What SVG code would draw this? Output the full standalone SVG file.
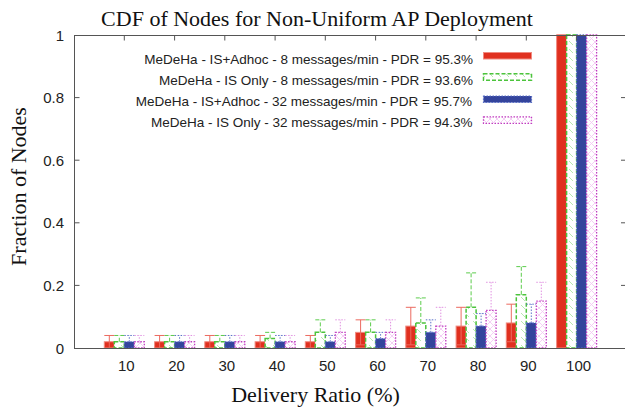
<svg xmlns="http://www.w3.org/2000/svg" width="625" height="410" viewBox="0 0 625 410">
  <style>
    .title { font-family: "Liberation Serif", "Times New Roman", serif; font-size: 22px; fill: #111; }
    .tick { font-family: "Liberation Sans", Arial, sans-serif; font-size: 15px; fill: #222; }
    .key { font-family: "Liberation Sans", Arial, sans-serif; font-size: 13.5px; fill: #222; text-anchor: end; }
    .frame { fill: none; stroke: #555; stroke-width: 1; }
    .red { fill: #e0301f; stroke: #f08a80; stroke-width: 1; }
    .green { fill: url(#hatchG); stroke: #4cc43c; stroke-width: 1.5; stroke-dasharray: 4 2; }
    .blue { fill: #34449c; stroke: #5a70c8; stroke-width: 1.2; stroke-dasharray: 1.5 1.5; }
    .mag { fill: url(#crossM); stroke: #c03cc0; stroke-width: 1.3; stroke-dasharray: 1.5 1.5; }
    .eRed { fill: none; stroke: #ec6a60; stroke-width: 1; }
    .eGreen { fill: none; stroke: #5ccc4c; stroke-width: 1; stroke-dasharray: 4 2; }
    .eBlue { fill: none; stroke: #5a70c8; stroke-width: 1; stroke-dasharray: 1.5 1.5; }
    .eMag { fill: none; stroke: #e090e0; stroke-width: 1; stroke-dasharray: 1.5 1.5; }
  </style>
  <defs>
    <pattern id="hatchG" patternUnits="userSpaceOnUse" width="8" height="8">
      <rect width="8" height="8" fill="#fff"/>
      <path d="M1,1 L5,5" stroke="#b8e8b0" stroke-width="1"/>
    </pattern>
    <pattern id="crossM" patternUnits="userSpaceOnUse" width="7" height="7">
      <rect width="7" height="7" fill="#fff"/>
      <path d="M0,0 L7,7 M7,0 L0,7" stroke="#f4c8f4" stroke-width="0.9"/>
    </pattern>
  </defs>

  <rect width="625" height="410" fill="#fff"/>

  <!-- title and axis labels -->
  <text class="title" x="317" y="26" text-anchor="middle">CDF of Nodes for Non-Uniform AP Deployment</text>
  <text class="title" x="315.5" y="402" text-anchor="middle">Delivery Ratio (%)</text>
  <text class="title" transform="translate(25.5,186.5) rotate(-90)" text-anchor="middle">Fraction of Nodes</text>

  <!-- y tick labels -->
  <g id="y-labels" class="tick" text-anchor="end">
    <text x="64" y="353.5">0</text>
    <text x="64" y="290.9">0.2</text>
    <text x="64" y="228.3">0.4</text>
    <text x="64" y="165.7">0.6</text>
    <text x="64" y="103.1">0.8</text>
    <text x="64" y="40.5">1</text>
  </g>

  <!-- x tick labels -->
  <g id="x-labels" class="tick" text-anchor="middle">
    <text x="126.3" y="371">10</text>
    <text x="176.6" y="371">20</text>
    <text x="226.8" y="371">30</text>
    <text x="277.1" y="371">40</text>
    <text x="327.3" y="371">50</text>
    <text x="377.6" y="371">60</text>
    <text x="427.8" y="371">70</text>
    <text x="478.1" y="371">80</text>
    <text x="528.3" y="371">90</text>
    <text x="578.6" y="371">100</text>
  </g>

  <!-- series 1: IS+Adhoc, 8 messages/min -->
  <g id="series-isadhoc-8">
    <rect class="red" x="104.3" y="341.74" width="10" height="6.26"/>
    <rect class="red" x="154.6" y="341.74" width="10" height="6.26"/>
    <rect class="red" x="204.8" y="341.74" width="10" height="6.26"/>
    <rect class="red" x="255.1" y="341.74" width="10" height="6.26"/>
    <rect class="red" x="305.3" y="341.74" width="10" height="6.26"/>
    <rect class="red" x="355.6" y="332.35" width="10" height="15.65"/>
    <rect class="red" x="405.8" y="326.09" width="10" height="21.91"/>
    <rect class="red" x="456.1" y="326.09" width="10" height="21.91"/>
    <rect class="red" x="506.3" y="322.96" width="10" height="25.04"/>
    <rect class="red" x="556.6" y="35" width="10" height="313"/>
    <path class="eRed" d="M109.3,348 V335.48 M104.3,335.48 h10
      M159.6,348 V335.48 M154.6,335.48 h10
      M209.8,348 V335.48 M204.8,335.48 h10
      M260.1,348 V335.48 M255.1,335.48 h10
      M310.3,348 V335.48 M305.3,335.48 h10
      M360.6,344.87 V319.83 M355.6,319.83 h10 M355.6,344.87 h10
      M410.8,344.87 V307.31 M405.8,307.31 h10 M405.8,344.87 h10
      M461.1,344.87 V307.31 M456.1,307.31 h10 M456.1,344.87 h10
      M511.3,341.74 V304.18 M506.3,304.18 h10 M506.3,341.74 h10
      M556.6,35 h10"/>
  </g>

  <!-- series 2: IS only, 8 messages/min -->
  <g id="series-isonly-8">
    <rect class="green" x="114.3" y="341.74" width="10" height="6.26"/>
    <rect class="green" x="164.6" y="341.74" width="10" height="6.26"/>
    <rect class="green" x="214.8" y="341.74" width="10" height="6.26"/>
    <rect class="green" x="265.1" y="338.61" width="10" height="9.39"/>
    <rect class="green" x="315.3" y="332.35" width="10" height="15.65"/>
    <rect class="green" x="365.6" y="332.35" width="10" height="15.65"/>
    <rect class="green" x="415.8" y="322.96" width="10" height="25.04"/>
    <rect class="green" x="466.1" y="307.31" width="10" height="40.69"/>
    <rect class="green" x="516.3" y="294.79" width="10" height="53.21"/>
    <rect class="green" x="566.6" y="35" width="10" height="313"/>
    <path class="eGreen" d="M119.3,341.74 V335.48 M114.3,335.48 h10
      M169.6,341.74 V335.48 M164.6,335.48 h10
      M219.8,341.74 V335.48 M214.8,335.48 h10
      M270.1,338.61 V332.35 M265.1,332.35 h10
      M320.3,332.35 V319.83 M315.3,319.83 h10
      M370.6,332.35 V319.83 M365.6,319.83 h10
      M420.8,322.96 V297.92 M415.8,297.92 h10
      M471.1,307.31 V272.88 M466.1,272.88 h10
      M521.3,294.79 V266.62 M516.3,266.62 h10
      M566.6,35 h10"/>
  </g>

  <!-- series 3: IS+Adhoc, 32 messages/min -->
  <g id="series-isadhoc-32">
    <rect class="blue" x="124.3" y="341.74" width="10" height="6.26"/>
    <rect class="blue" x="174.6" y="341.74" width="10" height="6.26"/>
    <rect class="blue" x="224.8" y="341.74" width="10" height="6.26"/>
    <rect class="blue" x="275.1" y="341.74" width="10" height="6.26"/>
    <rect class="blue" x="325.3" y="341.74" width="10" height="6.26"/>
    <rect class="blue" x="375.6" y="338.61" width="10" height="9.39"/>
    <rect class="blue" x="425.8" y="332.35" width="10" height="15.65"/>
    <rect class="blue" x="476.1" y="326.09" width="10" height="21.91"/>
    <rect class="blue" x="526.3" y="322.96" width="10" height="25.04"/>
    <rect class="blue" x="576.6" y="35" width="10" height="313"/>
    <path class="eBlue" d="M129.3,341.74 V335.48 M124.3,335.48 h10
      M179.6,341.74 V335.48 M174.6,335.48 h10
      M229.8,341.74 V335.48 M224.8,335.48 h10
      M280.1,341.74 V335.48 M275.1,335.48 h10
      M330.3,341.74 V335.48 M325.3,335.48 h10
      M380.6,338.61 V332.35 M375.6,332.35 h10
      M430.8,332.35 V319.83 M425.8,319.83 h10
      M481.1,326.09 V313.57 M476.1,313.57 h10
      M531.3,322.96 V304.18 M526.3,304.18 h10
      M576.6,35 h10"/>
  </g>

  <!-- series 4: IS only, 32 messages/min -->
  <g id="series-isonly-32">
    <rect class="mag" x="134.3" y="341.74" width="10" height="6.26"/>
    <rect class="mag" x="184.6" y="341.74" width="10" height="6.26"/>
    <rect class="mag" x="234.8" y="341.74" width="10" height="6.26"/>
    <rect class="mag" x="285.1" y="341.74" width="10" height="6.26"/>
    <rect class="mag" x="335.3" y="332.35" width="10" height="15.65"/>
    <rect class="mag" x="385.6" y="332.35" width="10" height="15.65"/>
    <rect class="mag" x="435.8" y="326.09" width="10" height="21.91"/>
    <rect class="mag" x="486.1" y="310.44" width="10" height="37.56"/>
    <rect class="mag" x="536.3" y="301.05" width="10" height="46.95"/>
    <rect class="mag" x="586.6" y="35" width="10" height="313"/>
    <path class="eMag" d="M139.3,341.74 V335.48 M134.3,335.48 h10
      M189.6,341.74 V335.48 M184.6,335.48 h10
      M239.8,341.74 V335.48 M234.8,335.48 h10
      M290.1,341.74 V335.48 M285.1,335.48 h10
      M340.3,332.35 V319.83 M335.3,319.83 h10
      M390.6,332.35 V319.83 M385.6,319.83 h10
      M440.8,326.09 V307.31 M435.8,307.31 h10
      M491.1,310.44 V282.27 M486.1,282.27 h10
      M541.3,301.05 V282.27 M536.3,282.27 h10
      M586.6,35 h10"/>
  </g>

  <!-- plot frame and ticks -->
  <g id="axes">
    <path class="frame" d="M74.5,35.5 H626 M74.5,35 V348.5 M74,348.5 H625"/>
    <path class="frame" d="M74.5,285.4 h5 M74.5,222.8 h5 M74.5,160.2 h5 M74.5,97.6 h5
      M625,285.4 h-4 M625,222.8 h-4 M625,160.2 h-4 M625,97.6 h-4
      M124.3,35.5 v5 M174.6,35.5 v5 M224.8,35.5 v5 M275.1,35.5 v5 M325.3,35.5 v5
      M375.6,35.5 v5 M425.8,35.5 v5 M476.1,35.5 v5 M526.3,35.5 v5 M576.6,35.5 v5"/>
  </g>

  <!-- legend -->
  <g id="legend-isadhoc-8">
    <text class="key" x="473" y="63.5">MeDeHa - IS+Adhoc - 8 messages/min - PDR = 95.3%</text>
    <rect class="red" x="483.5" y="52.5" width="48" height="6.5"/>
  </g>
  <g id="legend-isonly-8">
    <text class="key" x="473" y="84.5">MeDeHa - IS Only - 8 messages/min - PDR = 93.6%</text>
    <rect class="green" x="483.5" y="73.8" width="48" height="6.5"/>
  </g>
  <g id="legend-isadhoc-32">
    <text class="key" x="472" y="105.5">MeDeHa - IS+Adhoc - 32 messages/min - PDR = 95.7%</text>
    <rect class="blue" x="483.5" y="96" width="48" height="6.5"/>
  </g>
  <g id="legend-isonly-32">
    <text class="key" x="472.5" y="126.5">MeDeHa - IS Only - 32 messages/min - PDR = 94.3%</text>
    <rect class="mag" x="483.5" y="116.8" width="48" height="6.5"/>
  </g>
</svg>
